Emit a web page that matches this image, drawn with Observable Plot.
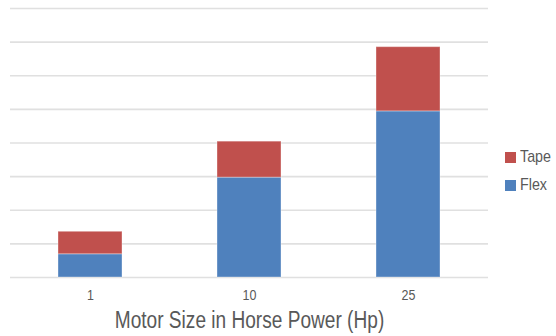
<!DOCTYPE html>
<html>
<head>
<meta charset="utf-8">
<script src="https://cdn.jsdelivr.net/npm/d3@7"></script>
<script src="https://cdn.jsdelivr.net/npm/@observablehq/plot@0.6"></script>
<style>
  html, body { margin: 0; padding: 0; background: #fff; }
  #wrap { position: relative; width: 556px; height: 336px; overflow: hidden; font-family: "Liberation Sans", Arial, sans-serif; }
  .legend { position: absolute; left: 505px; top: 143px; color: #595959; font-size: 17px; line-height: 28px; }
  .legend .item { display: flex; align-items: center; height: 28px; }
  .legend .sw { width: 11px; height: 11px; margin-right: 4px; flex: none; }
  .legend .lbl { display: inline-block; transform: scaleX(0.84); transform-origin: left center; }
</style>
</head>
<body>
<div id="wrap"></div>
<script>
const motors = ["1", "10", "25"];
const series = ["Flex", "Tape"];
const flexValues = [0.69, 2.97, 4.94];
const tapeValues = [0.67, 1.07, 1.91];
const colors = ["#4F81BD", "#C0504D"];
const xTitle = "Motor Size in Horse Power (Hp)";

const data = [];
motors.forEach((m, i) => {
  data.push({motor: m, series: "Flex", value: flexValues[i]});
  data.push({motor: m, series: "Tape", value: tapeValues[i]});
});

const chart = Plot.plot({
  width: 556,
  height: 336,
  marginLeft: 10,
  marginRight: 68,
  marginTop: 8,
  marginBottom: 59,
  style: {fontFamily: '"Liberation Sans", Arial, sans-serif', background: "#fff"},
  x: {domain: motors, paddingInner: 0.6, paddingOuter: 0.3, axis: null},
  y: {domain: [0, 8], axis: null},
  color: {domain: series, range: colors},
  marks: [
    Plot.gridY(d3.range(0, 9), {stroke: "#e0e0e0", strokeOpacity: 1, strokeWidth: 1.6}),
    Plot.barY(data, {x: "motor", y: "value", fill: "series", order: series, stroke: "#fff", strokeOpacity: 0.35, strokeWidth: 1}),
    Plot.text(motors, {x: d => d, text: d => d, frameAnchor: "bottom", dy: 22, fontSize: 15, fill: "#595959", className: "xticks"}),
    Plot.text([xTitle], {text: d => d, frameAnchor: "bottom", dy: 50, fontSize: 23, fill: "#595959", className: "xtitle"})
  ]
});

const wrap = document.getElementById("wrap");
wrap.appendChild(chart);

// condense text horizontally to match the narrow face of the reference
chart.querySelectorAll(".xticks text, .xtitle text").forEach(t => {
  const len = t.getComputedTextLength();
  t.setAttribute("textLength", (len * 0.83).toFixed(1));
  t.setAttribute("lengthAdjust", "spacingAndGlyphs");
});

const legend = document.createElement("div");
legend.className = "legend";
[["Tape", colors[1]], ["Flex", colors[0]]].forEach(([name, c]) => {
  const item = document.createElement("div");
  item.className = "item";
  const sw = document.createElement("span");
  sw.className = "sw";
  sw.style.background = c;
  const t = document.createElement("span");
  t.className = "lbl";
  t.textContent = name;
  item.appendChild(sw);
  item.appendChild(t);
  legend.appendChild(item);
});
wrap.appendChild(legend);
</script>
</body>
</html>
